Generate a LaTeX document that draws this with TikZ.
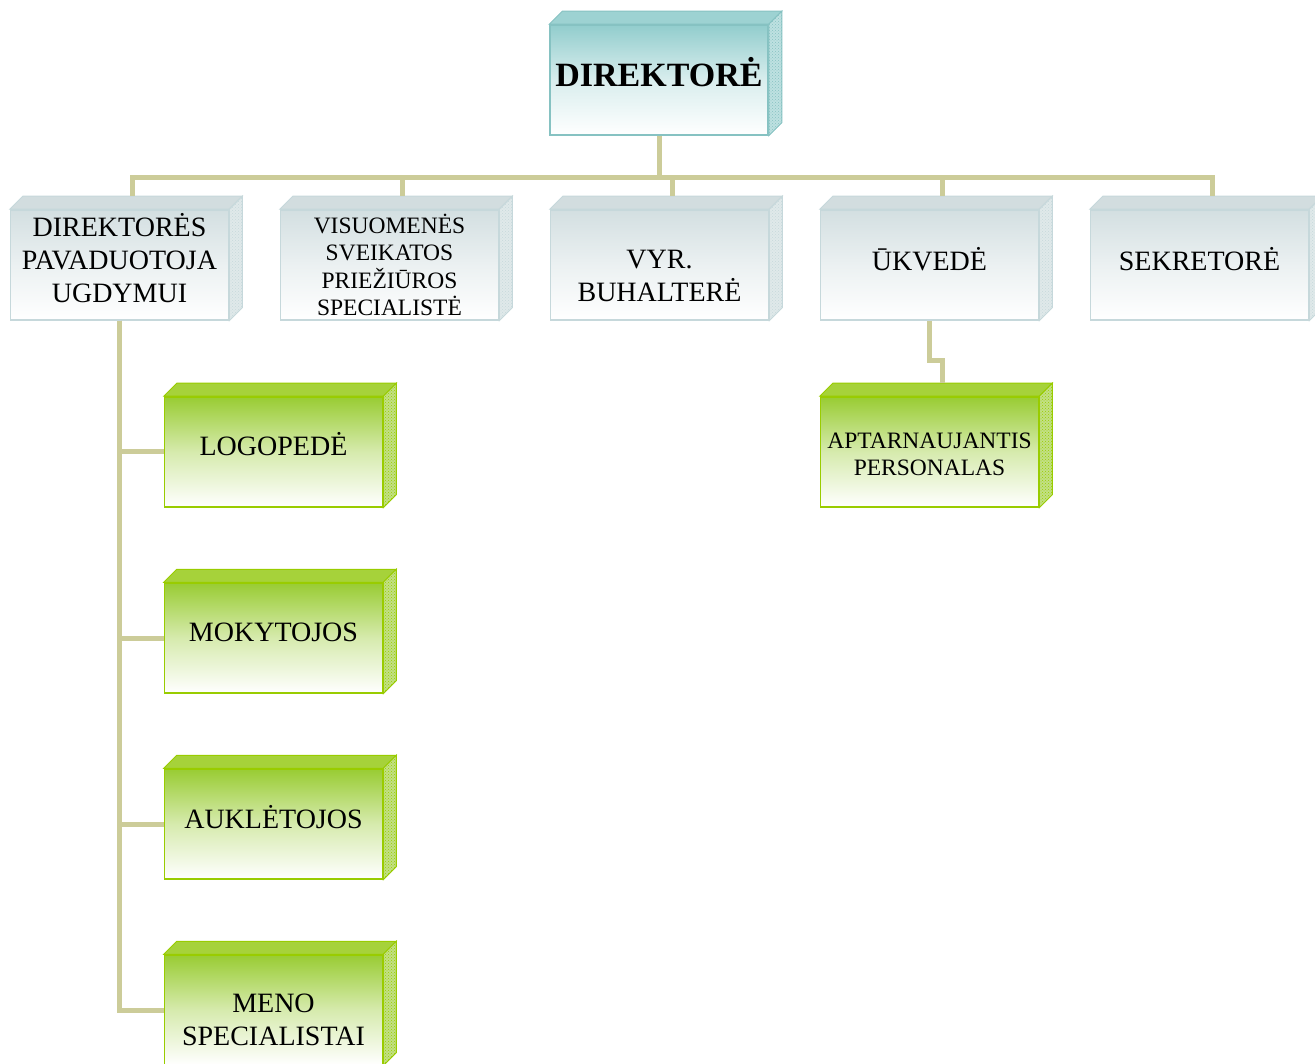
\documentclass[tikz,border=0pt]{standalone}
\usepackage{fontspec}
\setmainfont{Liberation Serif}
\usetikzlibrary{calc,patterns}
\definecolor{tealT}{HTML}{92CDCD}
\definecolor{tealB}{HTML}{86C2C2}
\definecolor{tealF}{HTML}{9DD2D2}
\definecolor{greyT}{HTML}{D3DFE1}
\definecolor{greyB}{HTML}{C6D8DB}
\definecolor{greyF}{HTML}{D2DDDF}
\definecolor{greenT}{HTML}{99CC33}
\definecolor{greenB}{HTML}{99CC00}
\definecolor{greenF}{HTML}{A6D23A}
\definecolor{khaki}{HTML}{CCCC99}
\newcommand\drawfaces[4]{%
  \filldraw[fill=#2, draw=#4, line width=1pt] (#1.north west) -- ++(13,13) -- ($(#1.north east)+(13,13)$) -- (#1.north east) -- cycle;
  \filldraw[fill=#3, draw=#4, line width=1pt] (#1.north east) -- ++(13,13) -- ($(#1.south east)+(13,13)$) -- (#1.south east) -- cycle;
  \fill[pattern=crosshatch dots, pattern color=#4] (#1.north east) -- ++(13,13) -- ($(#1.south east)+(13,13)$) -- (#1.south east) -- cycle;
}
\begin{document}
\begin{tikzpicture}[x=1pt,y=1pt,
  box/.style={line width=1.5pt, minimum width=218pt, minimum height=110pt, inner sep=0pt, align=center, text=black, font=\fontsize{28}{33}\selectfont},
  tealbox/.style={box, draw=tealB, top color=tealT, bottom color=white, middle color=tealT!35!white},
  greybox/.style={box, draw=greyB, top color=greyT, bottom color=white, middle color=greyT!45!white},
  greenbox/.style={box, draw=greenB, top color=greenT, bottom color=white, middle color=greenT!40!white},
  small/.style={font=\fontsize{23.5}{27.5}\selectfont},
  conn/.style={draw=khaki, line width=5pt}
]
\useasboundingbox (0,0) rectangle (1315,-1064);
% nodes
\node[tealbox, font=\fontsize{34}{40}\selectfont\bfseries, text depth=16pt] (dir) at (659,-80) {DIREKTORĖ};
\node[greybox, text depth=14pt] (b1) at (119.5,-265) {DIREKTORĖS\\PAVADUOTOJA\\UGDYMUI};
\node[greybox, small] (b2) at (389.5,-265) {VISUOMENĖS\\SVEIKATOS\\PRIEŽIŪROS\\SPECIALISTĖ};
\node[greybox, text height=73pt, text depth=0pt] (b3) at (659.5,-265) {VYR.\\BUHALTERĖ};
\node[greybox, text depth=12pt] (b4) at (929.5,-265) {ŪKVEDĖ};
\node[greybox, text depth=12pt] (b5) at (1199.5,-265) {SEKRETORĖ};
\node[greenbox, text depth=16pt] (g1) at (273.5,-452) {LOGOPEDĖ};
\node[greenbox, text depth=12pt] (g2) at (273.5,-638) {MOKYTOJOS};
\node[greenbox, text depth=14pt] (g3) at (273.5,-824) {AUKLĖTOJOS};
\node[greenbox, text height=71pt, text depth=0pt] (g4) at (273.5,-1010) {MENO\\SPECIALISTAI};
\node[greenbox, small, text height=47pt, text depth=0pt] (ap) at (929.5,-452) {APTARNAUJANTIS\\PERSONALAS};
% 3D faces
\drawfaces{dir}{tealF}{tealT!60!white}{tealB}
\foreach \n in {b1,b2,b3,b4,b5}{\drawfaces{\n}{greyF}{greyT!70!white}{greyB}}
\foreach \n in {g1,g2,g3,g4,ap}{\drawfaces{\n}{greenF}{greenT!60!white}{greenB}}
% connectors
\coordinate (bar) at ($(dir.south)+(0,-42)$);
\draw[conn] (dir.south) -- (bar);
\foreach \n in {b1,b2,b3,b4,b5}{\draw[conn] (bar) -| ($(\n.north)+(13,13)$);}
\foreach \n in {g1,g2,g3,g4}{\draw[conn] (b1.south) |- (\n.west);}
\draw[conn] (b4.south) -- ++(0,-40) -| ($(ap.north)+(13,13)$);
\end{tikzpicture}
\end{document}
